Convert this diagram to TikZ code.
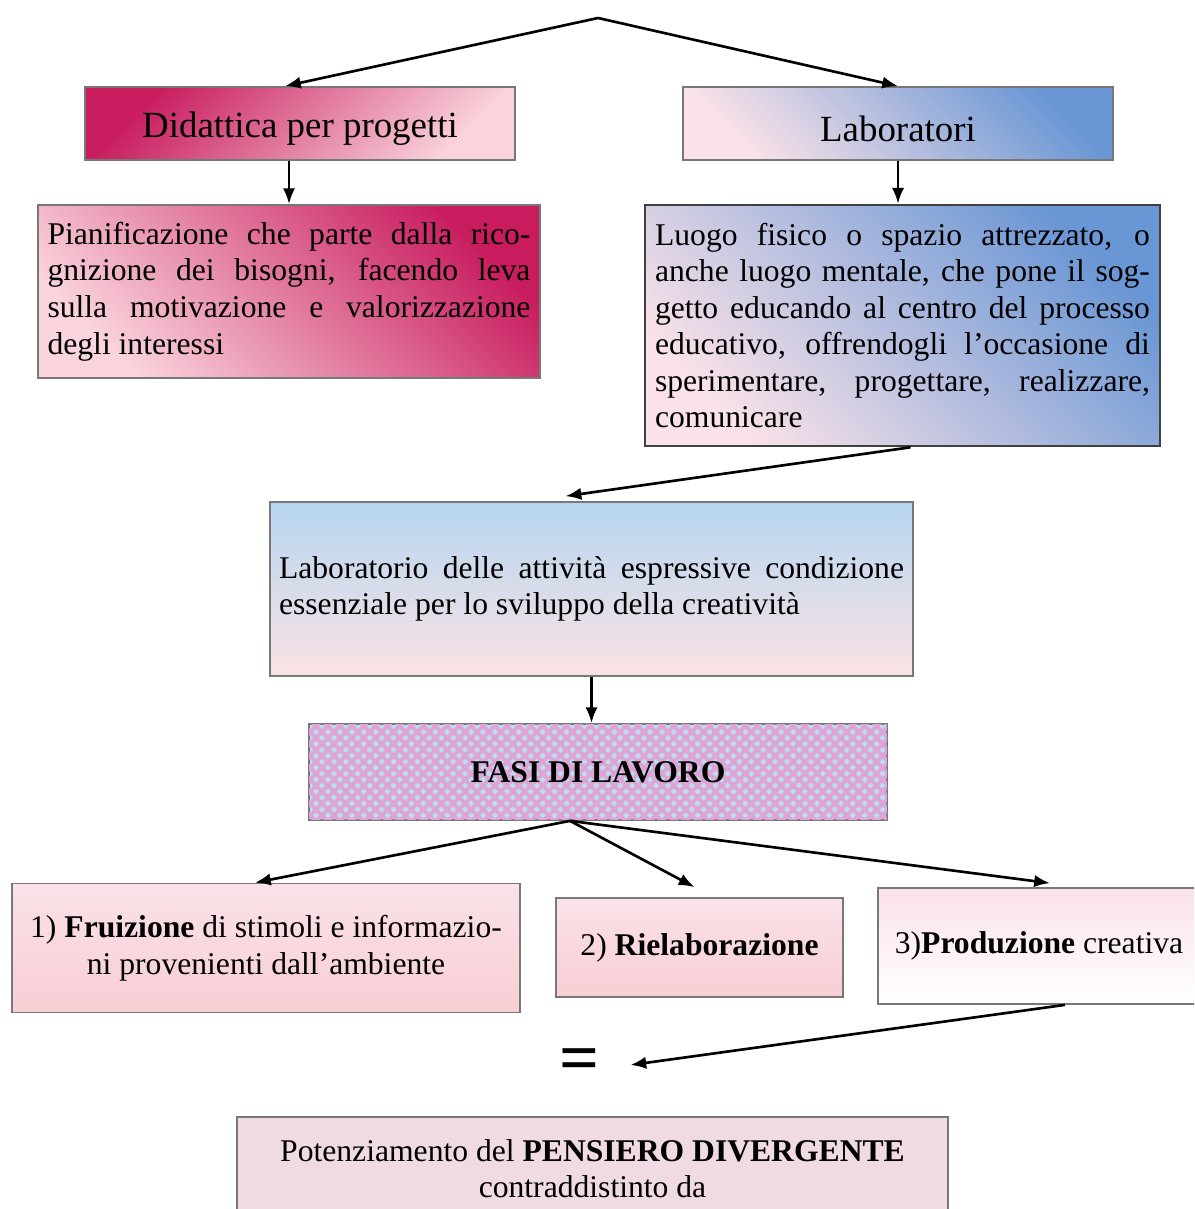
\documentclass[tikz,border=0pt]{standalone}
\usepackage{fontspec}
\setmainfont{Liberation Serif}
\usetikzlibrary{arrows.meta,patterns.meta}

\definecolor{magdark}{RGB}{200,28,95}
\definecolor{pinklight}{RGB}{250,212,220}
\definecolor{bluemid}{RGB}{105,150,212}
\definecolor{pinkpale}{RGB}{250,226,232}
\definecolor{skyblue}{RGB}{182,214,240}
\definecolor{rosepale}{RGB}{250,226,228}
\definecolor{hatchpink}{RGB}{222,165,212}
\definecolor{hatchblue}{RGB}{188,222,244}
\definecolor{rosefill}{RGB}{247,206,212}
\definecolor{lilacpale}{RGB}{240,218,228}
\definecolor{boxline}{RGB}{120,120,120}

\begin{document}
\begin{tikzpicture}[x=0.02cm,y=-0.02cm,
  box/.style={draw=boxline,line width=1pt,inner sep=0pt,
    font=\fontsize{18}{20.8}\selectfont},
  headbox/.style={box,font=\fontsize{21}{24}\selectfont,
    minimum width=8.6cm,minimum height=1.46cm},
  textbox/.style={box,align=justify,text width=#1},
  link/.style={-{Latex[length=9pt,width=7pt]},line width=1.5pt}]
  \useasboundingbox (0,0) rectangle (1194,1209);
  \clip (0,0) rectangle (1194,1209);

  % top level
  \coordinate (apex) at (598,18);
  \node[headbox,top color=magdark,bottom color=pinklight,shading angle=45] (did) at (300,123.5)
    {\raisebox{-3pt}[\height][\depth]{Didattica per progetti}};
  \node[headbox,top color=bluemid,bottom color=pinkpale,shading angle=-45] (lab) at (898,123.5)
    {\raisebox{-3pt}[\height][\depth]{Laboratori}};

  \node[textbox=9.66cm,minimum width=10.04cm,minimum height=3.46cm,
    top color=magdark,bottom color=pinklight,shading angle=-45] (pian) at (289,291.5)
    {Pianificazione che parte dalla rico-\linebreak
     gnizione dei bisogni, facendo leva\linebreak
     sulla motivazione e valorizzazione\linebreak
     degli interessi};
  \node[textbox=9.9cm,draw=black!75,line width=1.5pt,minimum width=10.3cm,minimum height=4.82cm,
    top color=bluemid,bottom color=pinkpale,shading angle=-45] (luogo) at (902.5,325.5)
    {Luogo fisico o spazio attrezzato, o\linebreak
     anche luogo mentale, che pone il sog-\linebreak
     getto educando al centro del processo\linebreak
     educativo, offrendogli l’occasione di\linebreak
     sperimentare, progettare, realizzare,\linebreak
     comunicare};

  % middle
  \node[textbox=12.5cm,minimum width=12.86cm,minimum height=3.48cm,
    top color=skyblue,bottom color=rosepale] (labor) at (591.5,589)
    {Laboratorio delle attività espressive condizione\linebreak
     essenziale per lo sviluppo della creatività};
  \node[box,font=\fontsize{18}{20.8}\selectfont\bfseries,minimum width=11.56cm,minimum height=1.92cm,fill=hatchblue,
    postaction={pattern={Lines[angle=45,distance=4.8pt,line width=2.2pt]},pattern color=hatchpink},
    postaction={pattern={Lines[angle=-45,distance=4.8pt,line width=2.2pt]},pattern color=hatchpink}]
    (fasi) at (598,772) {FASI DI LAVORO};

  % phases
  \node[box,align=center,minimum width=10.16cm,minimum height=2.58cm,
    top color=pinkpale,bottom color=rosefill] (fru) at (266,948)
    {1) \textbf{Fruizione} di stimoli e informazio-\\ni provenienti dall’ambiente};
  \node[box,minimum width=5.74cm,minimum height=1.98cm,
    top color=pinkpale,bottom color=rosefill] (riel) at (699.5,947.5) {2) \textbf{Rielaborazione}};
  \node[box,minimum width=6.44cm,minimum height=2.32cm,
    top color=pinkpale,bottom color=white] (prod) at (1039,946) {3)\textbf{Produzione} creativa};

  \node[inner sep=0pt,font=\fontsize{40}{40}\selectfont\bfseries] (eq) at (580,1065) {=};
  \node[box,align=center,minimum width=14.22cm,minimum height=2.06cm,fill=lilacpale] (pot) at (592.5,1168.5)
    {Potenziamento del \textbf{PENSIERO DIVERGENTE}\\contraddistinto da};

  % arrows
  \draw[link] (apex) -- ([xshift=-0.3cm]did.north);
  \draw[link] (apex) -- (lab.north);
  \draw[link] (did.south -| pian.north) -- (pian.north);
  \draw[link] (lab.south) -- (lab.south |- luogo.north);
  \draw[link] ([xshift=0.16cm]luogo.south) -- ([xshift=-0.52cm,yshift=0.1cm]labor.north);
  \draw[link] (labor.south) -- (labor.south |- fasi.north);
  \coordinate (fork) at ([xshift=-0.56cm]fasi.south);
  \draw[link] (fork) -- ([xshift=-0.22cm]fru.north);
  \draw[link] (fork) -- ([xshift=-0.1cm,yshift=0.2cm]riel.north);
  \draw[link] (fork) -- ([xshift=0.22cm,yshift=0.08cm]prod.north);
  \draw[link] ([xshift=0.52cm]prod.south) -- ([xshift=0.6cm]eq.east);
\end{tikzpicture}
\end{document}
